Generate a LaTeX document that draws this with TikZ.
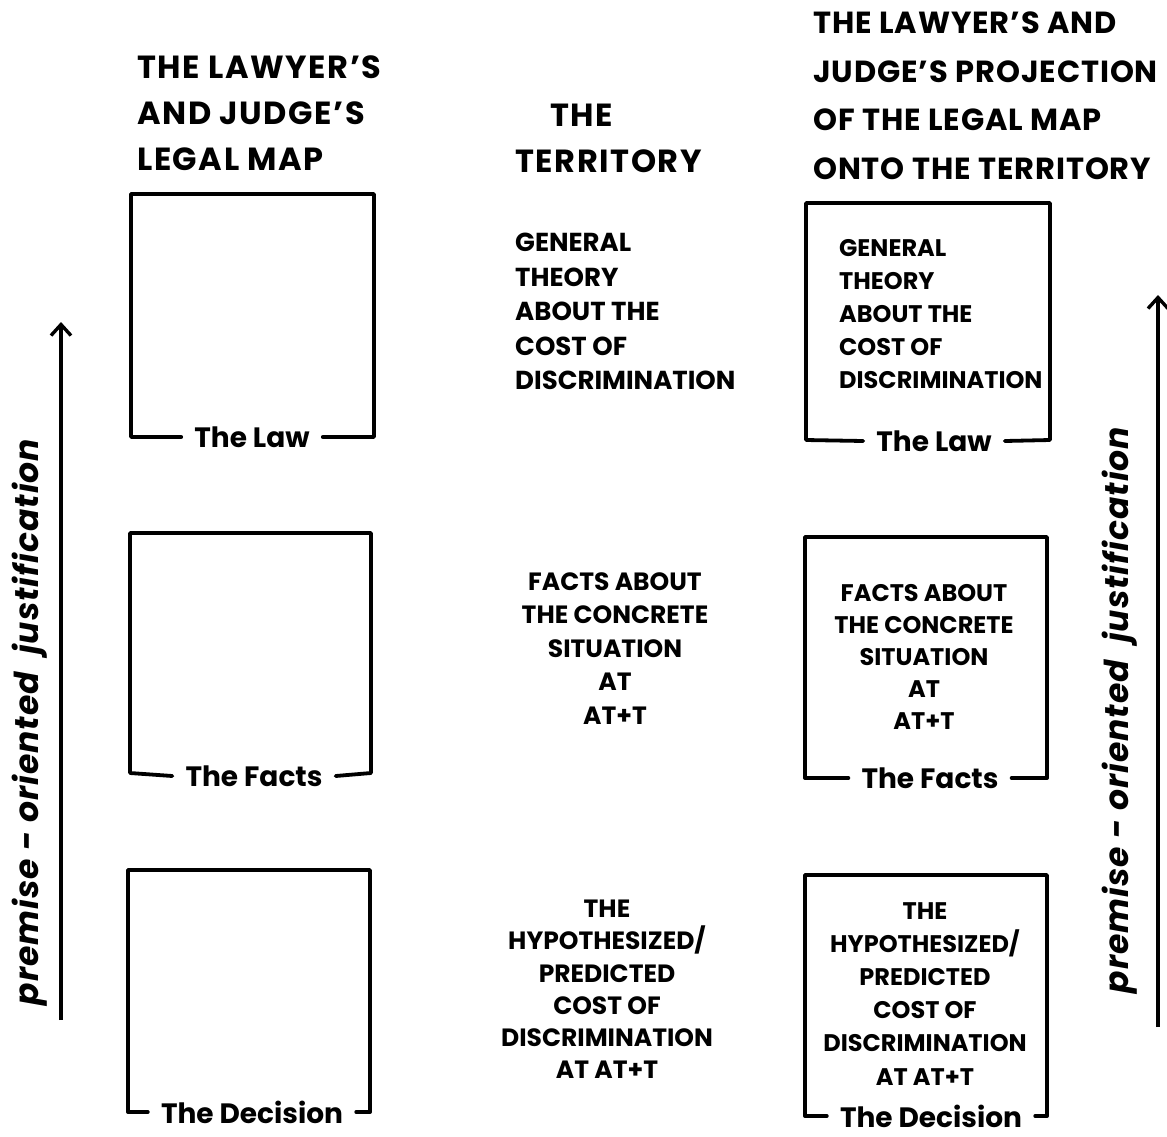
\documentclass[tikz,border=0pt]{standalone}
\usepackage{fontspec}
\setmainfont{Poppins}
\usetikzlibrary{arrows.meta}
\begin{document}
\begin{tikzpicture}[x=1pt,y=-1pt,
  ink/.style={line width=3.8pt,line cap=round,line join=round},
  arr/.style={line width=3.4pt,-{Straight Barb[length=11pt,width=20pt]}},
  title/.style={font=\fontsize{32}{46}\selectfont\bfseries\addfontfeatures{LetterSpace=5},align=left,inner sep=0pt,anchor=north west},
  body/.style={font=\fontsize{25}{33.5}\selectfont\bfseries,inner sep=0pt,anchor=north},
  lab/.style={font=\fontsize{28}{30}\selectfont\bfseries,inner xsep=13pt,inner ysep=0pt},
  side/.style={font=\fontsize{33}{34}\selectfont\bfseries\itshape\addfontfeatures{LetterSpace=3},rotate=90,inner sep=0pt}]
\useasboundingbox (0,0) rectangle (1167,1136);
\fill[white] (0,0) rectangle (1167,1136);

% titles
\node[title] (t1) at (137,56) {THE LAWYER'S\\AND JUDGE'S\\LEGAL MAP};
\node[title] (t2) at (515,104) {\hspace*{35pt}THE\\TERRITORY};
\node[title,font=\fontsize{30.5}{48.5}\selectfont\bfseries\addfontfeatures{LetterSpace=3}] (t3) at (813,12) {THE LAWYER'S AND\\JUDGE'S PROJECTION\\OF THE LEGAL MAP\\ONTO THE TERRITORY};

% left boxes
\node[lab] (l1) at (252,437) {The Law};
\draw[ink] (l1.west) -- (131,437) -- (131,194) -- (374,194) -- (374,437) -- (l1.east);
\node[lab] (l2) at (254,776) {The Facts};
\draw[ink] (l2.west) -- (130,773) -- (130,533) -- (371,533) -- (371,773) -- (l2.east);
\node[lab] (l3) at (252,1112) {The Decision};
\draw[ink] (l3.west) -- (128,1112) -- (128,870) -- (370,870) -- (370,1112) -- (l3.east);

% right boxes
\node[lab] (r1) at (934,441) {The Law};
\draw[ink] (r1.west) -- (806,440) -- (806,203) -- (1050,203) -- (1050,440) -- (r1.east);
\node[lab] (r2) at (930,778) {The Facts};
\draw[ink] (r2.west) -- (805,778) -- (805,537) -- (1047,537) -- (1047,778) -- (r2.east);
\node[lab] (r3) at (931,1116) {The Decision};
\draw[ink] (r3.west) -- (805,1116) -- (805,875) -- (1047,875) -- (1047,1116) -- (r3.east);

% territory texts
\node[body,anchor=north west,align=left,font=\fontsize{26}{34.5}\selectfont\bfseries] (m1) at (515,233) {GENERAL\\THEORY\\ABOUT THE\\COST OF\\DISCRIMINATION};
\node[body,align=center] (m2) at (615,572) {FACTS ABOUT\\THE CONCRETE\\SITUATION\\AT\\AT+T};
\node[body,align=center,font=\fontsize{25}{32.2}\selectfont\bfseries] (m3) at (607,900) {THE\\HYPOTHESIZED/\\PREDICTED\\COST OF\\DISCRIMINATION\\AT AT+T};

% projection texts
\node[body,anchor=north west,align=left,font=\fontsize{24}{33}\selectfont\bfseries] (p1) at (839,239) {GENERAL\\THEORY\\ABOUT THE\\COST OF\\DISCRIMINATION};
\node[body,align=center,font=\fontsize{24}{32}\selectfont\bfseries] (p2) at (924,584) {FACTS ABOUT\\THE CONCRETE\\SITUATION\\AT\\AT+T};
\node[body,align=center,font=\fontsize{24}{33.2}\selectfont\bfseries] (p3) at (925,902) {THE\\HYPOTHESIZED/\\PREDICTED\\COST OF\\DISCRIMINATION\\AT AT+T};

% arrows
\coordinate (la0) at (61,1020);
\coordinate (la1) at (61,322);
\draw[arr] (la0) -- (la1);
\coordinate (ra0) at (1158,1027);
\coordinate (ra1) at (1158,295);
\draw[arr] (ra0) -- (ra1);
\node[side] (sl) at (30,722) {premise - oriented\ \ justification};
\node[side] (sr) at (1120,710) {premise - oriented\ \ justification};
\end{tikzpicture}
\end{document}
